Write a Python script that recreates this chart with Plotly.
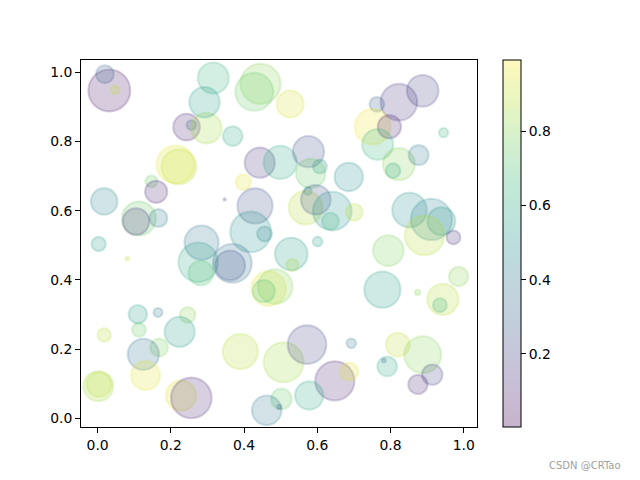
import math
import plotly.graph_objects as go
from plotly.colors import sequential, hex_to_rgb

# ---- data ----
x_vals = [0.032, 0.020, 0.048, 0.243, 0.256, 0.297, 0.316, 0.292, 0.213, 0.222,
          0.147, 0.160, 0.445, 0.428, 0.526, 0.369, 0.443, 0.499, 0.576, 0.607,
          0.582, 0.398, 0.686, 0.574, 0.823, 0.888, 0.763, 0.751, 0.797, 0.945,
          0.765, 0.823, 0.877, 0.807, 0.018, 0.113, 0.105, 0.166, 0.003, 0.081,
          0.275, 0.284, 0.282, 0.347, 0.430, 0.418, 0.456, 0.368, 0.362, 0.529,
          0.532, 0.601, 0.467, 0.485, 0.454, 0.568, 0.596, 0.641, 0.636, 0.701,
          0.852, 0.912, 0.939, 0.893, 0.972, 0.794, 0.986, 0.778, 0.874, 0.943,
          0.935, 0.110, 0.165, 0.246, 0.113, 0.018, 0.224, 0.168, 0.125, 0.131,
          0.002, 0.004, 0.228, 0.256, 0.390, 0.508, 0.572, 0.648, 0.687, 0.693,
          0.502, 0.496, 0.462, 0.578, 0.820, 0.888, 0.791, 0.782, 0.914, 0.875]

y_vals = [0.948, 0.995, 0.950, 0.842, 0.848, 0.839, 0.984, 0.914, 0.734, 0.727,
          0.685, 0.655, 0.967, 0.944, 0.909, 0.816, 0.739, 0.740, 0.771, 0.728,
          0.708, 0.683, 0.698, 0.657, 0.914, 0.947, 0.908, 0.843, 0.843, 0.826,
          0.792, 0.735, 0.761, 0.716, 0.627, 0.578, 0.569, 0.579, 0.504, 0.462,
          0.451, 0.508, 0.420, 0.633, 0.614, 0.539, 0.533, 0.448, 0.442, 0.475,
          0.443, 0.511, 0.375, 0.381, 0.368, 0.609, 0.632, 0.599, 0.570, 0.596,
          0.602, 0.575, 0.570, 0.529, 0.523, 0.485, 0.410, 0.372, 0.364, 0.344,
          0.327, 0.301, 0.306, 0.299, 0.256, 0.241, 0.250, 0.205, 0.185, 0.124,
          0.093, 0.098, 0.066, 0.059, 0.193, 0.162, 0.213, 0.108, 0.135, 0.217,
          0.056, 0.033, 0.023, 0.066, 0.213, 0.184, 0.150, 0.167, 0.126, 0.098]

color_vals = [0.05, 0.30, 0.90, 0.10, 0.30, 0.85, 0.65, 0.55, 0.95, 0.90,
              0.75, 0.10, 0.80, 0.75, 0.93, 0.60, 0.15, 0.60, 0.25, 0.50,
              0.75, 0.95, 0.50, 0.60, 0.15, 0.18, 0.30, 0.97, 0.08, 0.65,
              0.65, 0.80, 0.40, 0.60, 0.45, 0.75, 0.15, 0.40, 0.55, 0.90,
              0.60, 0.40, 0.70, 0.20, 0.25, 0.50, 0.45, 0.35, 0.25, 0.55,
              0.85, 0.55, 0.95, 0.80, 0.70, 0.88, 0.25, 0.50, 0.65, 0.88,
              0.50, 0.45, 0.50, 0.88, 0.12, 0.78, 0.80, 0.55, 0.80, 0.88,
              0.65, 0.55, 0.40, 0.80, 0.75, 0.88, 0.55, 0.78, 0.35, 0.95,
              0.85, 0.90, 0.95, 0.10, 0.88, 0.85, 0.20, 0.10, 0.95, 0.40,
              0.75, 0.25, 0.40, 0.60, 0.90, 0.80, 0.60, 0.35, 0.20, 0.10]

# marker areas in points^2 (matplotlib "s")
area_vals = [911, 166, 38, 367, 48, 483, 496, 480, 745, 632,
             74, 256, 839, 745, 376, 199, 473, 572, 505, 100,
             446, 120, 419, 32, 695, 518, 111, 657, 280, 44,
             496, 528, 206, 111, 367, 596, 367, 166, 105, 7,
             813, 607, 314, 3, 643, 855, 115, 785, 464, 551,
             77, 48, 621, 621, 256, 586, 455, 773, 148, 148,
             621, 881, 404, 813, 100, 486, 192, 680, 14, 505,
             100, 178, 41, 126, 100, 91, 473, 161, 505, 433,
             464, 314, 473, 855, 643, 826, 773, 797, 166, 48,
             220, 9, 455, 413, 297, 707, 199, 8, 220, 192]

x_ticks = [0.0, 0.2, 0.4, 0.6, 0.8, 1.0]
y_ticks = [0.0, 0.2, 0.4, 0.6, 0.8, 1.0]
cbar_ticks = [0.2, 0.4, 0.6, 0.8]
c_min, c_max = 0.003, 0.992

PX = 100 / 72  # points -> pixels
sizes = [math.sqrt(a) * PX for a in area_vals]


def rgba(h, a=0.3):
    r, g, b = hex_to_rgb(h)
    return f"rgba({r},{g},{b},{a})"


vir = sequential.Viridis
cscale = [[i / (len(vir) - 1), rgba(c)] for i, c in enumerate(vir)]

font = dict(family="DejaVu Sans", size=13.9, color="black")

fig = go.Figure(
    go.Scatter(
        x=x_vals, y=y_vals, mode="markers",
        marker=dict(
            size=sizes, sizemode="diameter",
            color=color_vals, colorscale=cscale, cmin=c_min, cmax=c_max,
            line=dict(width=1.5 * PX, color=color_vals, colorscale=cscale,
                      cmin=c_min, cmax=c_max),
            showscale=True,
            colorbar=dict(
                thickness=18, thicknessmode="pixels",
                len=1, lenmode="fraction",
                x=1.065, xanchor="left", xpad=0,
                y=0.5, yanchor="middle", ypad=0,
                outlinewidth=1, outlinecolor="black",
                ticks="outside", ticklen=4.9, tickwidth=1.1, tickcolor="black",
                tickvals=cbar_ticks, ticktext=[f"{v:.1f}" for v in cbar_ticks],
                tickfont=font,
            ),
        ),
        showlegend=False,
        hoverinfo="skip",
    )
)

axis_common = dict(
    showline=True, mirror=True, linecolor="black", linewidth=1.1,
    ticks="outside", ticklen=4.9, tickwidth=1.1, tickcolor="black",
    showgrid=False, zeroline=False, tickfont=font,
)

fig.update_xaxes(range=[-0.0453, 1.0363], tickvals=x_ticks,
                 ticktext=[f"{v:.1f}" for v in x_ticks], **axis_common)
fig.update_yaxes(range=[-0.0251, 1.036], tickvals=y_ticks,
                 ticktext=[f"{v:.1f}" for v in y_ticks], **axis_common)

fig.add_annotation(
    text="CSDN @CRTao", xref="paper", yref="paper",
    x=1.369, y=-0.105, xanchor="right", yanchor="middle",
    showarrow=False, font=dict(family="DejaVu Sans", size=10, color="#a0a0a0"),
)

fig.update_layout(
    width=640, height=480,
    margin=dict(l=81, r=163, t=60, b=53),
    paper_bgcolor="white", plot_bgcolor="white",
    font=font,
)

fig.write_html("out.html")
